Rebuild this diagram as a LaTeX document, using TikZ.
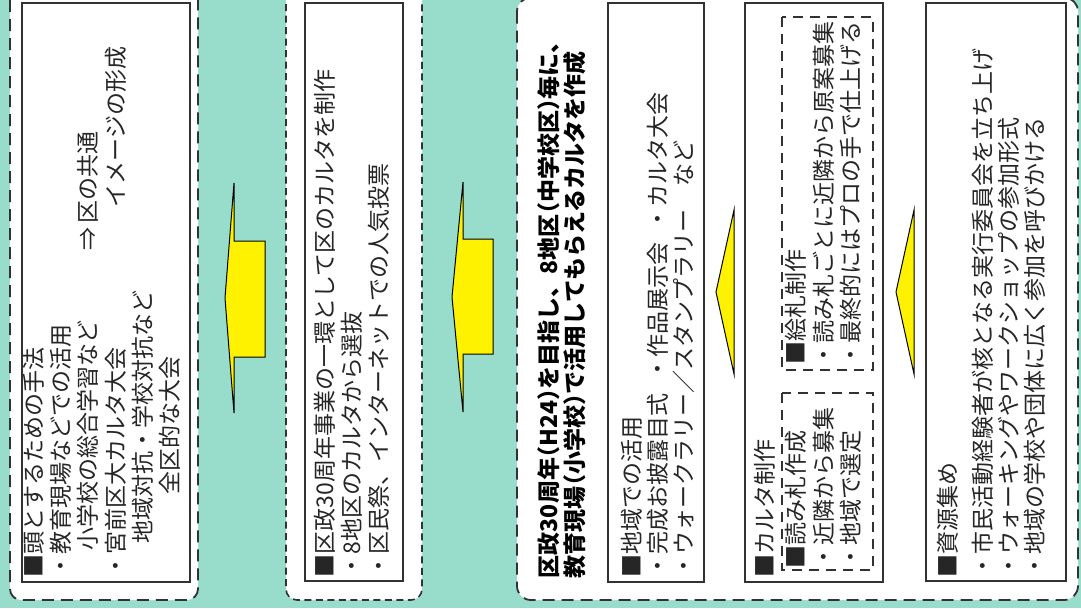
\documentclass[tikz,border=0pt]{standalone}
\usepackage{fontspec}
\setmainfont{Noto Sans CJK JP}
\definecolor{bgteal}{RGB}{152,220,204}
\definecolor{lineg}{RGB}{50,50,50}
\newcommand\jpo{\hbox to 0.5em{\hss（}}
\newcommand\jpc{\hbox to 0.5em{）\hss}}
\begin{document}
\begin{tikzpicture}[x=1pt,y=-1pt,
  panel/.style={draw=lineg, line width=1.8pt, dash pattern=on 12pt off 7pt, fill=white, rounded corners=11pt},
  panelb/.style={panel, dash pattern=on 7pt off 4.5pt, line width=1.6pt},
  box/.style={draw=lineg, line width=1.3pt, fill=white},
  subbox/.style={draw=lineg, line width=1.4pt, dash pattern=on 10pt off 7pt},
  arrowshape/.style={fill=yellow, draw=black, line width=1pt, line join=miter},
  txt/.style={rotate=90, anchor=west, inner sep=0pt, outer sep=0pt, font=\fontsize{23}{23}\selectfont, text height=20.24pt, text depth=2.76pt, text=black!85},
  hdr/.style={txt, font=\fontsize{23}{23}\selectfont\bfseries, text=black}]
\useasboundingbox (0,0) rectangle (1081,608);
\fill[bgteal] (0,0) rectangle (1081,608);
\begin{scope}
\clip (0,0) rectangle (1081,608);
% panels
\draw[panel] (10,-30) rectangle (198,600);
\draw[panelb] (286,-30) rectangle (422,600);
\draw[panel, rounded corners=14pt] (517,-2.5) rectangle (1078,600);
% inner boxes
\draw[box] (22,3) rectangle (190,582);
\draw[box] (305,3) rectangle (403,581);
\draw[box] (608,3) rectangle (704,582);
\draw[box] (745,3) rectangle (883,582);
\draw[box] (926,3) rectangle (1066,581);
\draw[subbox] (782,17) rectangle (873,370);
\draw[subbox] (782,393) rectangle (873,570);
% arrows
\draw[arrowshape] (234,183) -- (234,241) -- (265,241) -- (265,357) -- (234,357) -- (234,413) -- (225,298) -- cycle;
\draw[arrowshape] (463,182) -- (463,239) -- (493,239) -- (493,354) -- (463,354) -- (463,412) -- (452,297) -- cycle;
\draw[arrowshape] (734,210) -- (734,374) -- (716,292) -- cycle;
\draw[arrowshape] (914,210) -- (914,374) -- (896,292) -- cycle;
\end{scope}
% panel 1 text
\node[txt] (p1a) at (34,577) {■頭とするための手法};
\node[txt] (p1b) at (61,577) {・教育現場などでの活用};
\node[txt] (p1c) at (88,550) {小学校の総合学習など};
\node[txt] (p1d) at (88,250) {⇒\,区の共通};
\node[txt] (p1e) at (116,577) {・宮前区大カルタ大会};
\node[txt] (p1f) at (116,207) {イメージの形成};
\node[txt] (p1g) at (143,543) {地域対抗・学校対抗など};
\node[txt] (p1h) at (170,494) {全区的な大会};
% panel 2 text
\node[txt] (p2a) at (325,577) {■区政30周年事業の一環として区のカルタを制作};
\node[txt] (p2b) at (352,577) {・8地区のカルタから選抜};
\node[txt] (p2c) at (379,577) {・区民祭、インターネットでの人気投票};
% panel 3 header
\node[hdr] (h1) at (549,578) {区政30周年\jpo H24\jpc を目指し、8地区\jpo 中学校区\jpc 毎に、};
\node[hdr] (h2) at (575,578) {教育現場\jpo 小学校\jpc で活用してもらえるカルタを作成};
% box A
\node[txt] (a1) at (632,577) {■地域での活用};
\node[txt] (a2) at (658,577) {・完成お披露目式};
\node[txt] (a3) at (658,380) {・作品展示会};
\node[txt] (a4) at (658,230) {・カルタ大会};
\node[txt] (a5) at (684,577) {・ウォークラリー／スタンプラリー};
\node[txt] (a6) at (684,186) {など};
% box B
\node[txt] (b1) at (765,577) {■カルタ制作};
\node[txt] (b2) at (796,568) {■読み札作成};
\node[txt] (b3) at (824,568) {・近隣から募集};
\node[txt] (b4) at (851,568) {・地域で選定};
\node[txt] (b5) at (796,364) {■絵札制作};
\node[txt] (b6) at (824,366) {・読み札ごとに近隣から原案募集};
\node[txt] (b7) at (851,366) {・最終的にはプロの手で仕上げる};
% box C
\node[txt] (c1) at (948,577) {■資源集め};
\node[txt] (c2) at (983,577) {・市民活動経験者が核となる実行委員会を立ち上げ};
\node[txt] (c3) at (1009,577) {・ウォーキングやワークショップの参加形式};
\node[txt] (c4) at (1035,577) {・地域の学校や団体に広く参加を呼びかける};
\end{tikzpicture}
\end{document}
